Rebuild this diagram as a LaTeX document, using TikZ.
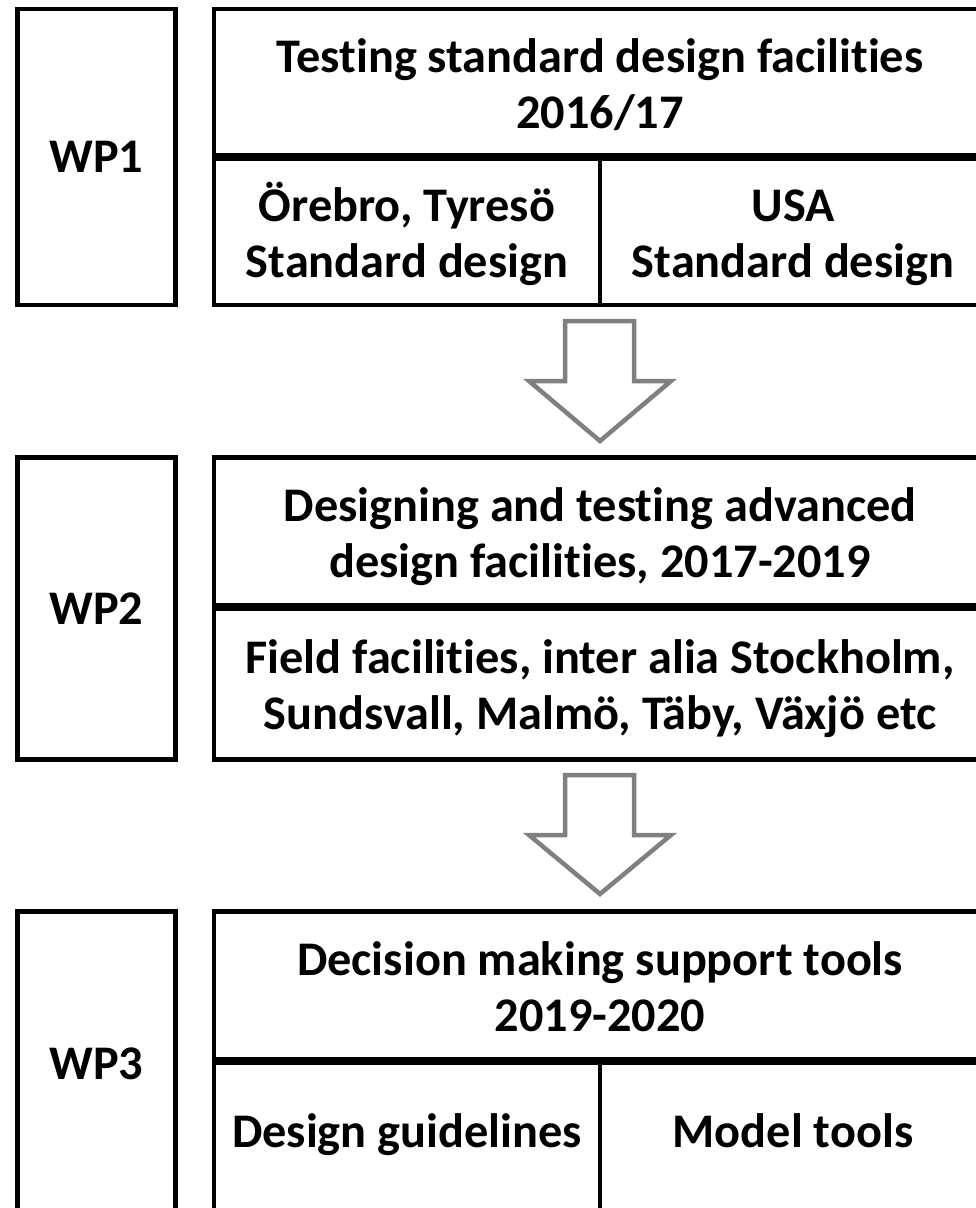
\documentclass[tikz,border=0pt]{standalone}
\usepackage{fontspec}
\setmainfont{Carlito}[Ligatures={NoCommon,NoContextual}]
\definecolor{arrowgray}{RGB}{128,128,128}
% line strut: every text line is 56pt tall, baseline 45.75pt below its top
\newcommand{\cellstrut}{\rule[-10.25pt]{0pt}{56pt}}
\tikzset{
  cell/.style={draw=black, line width=4.5pt, fill=white, inner sep=0pt,
    outer sep=0pt, anchor=north west, align=center,
    font=\bfseries\fontsize{48.3}{56}\selectfont},
  blockarrow/.style={draw=arrowgray, line width=4.5pt, fill=white,
    line join=miter}
}
\begin{document}
\begin{tikzpicture}[x=1pt, y=-1pt]
\useasboundingbox (0,0) rectangle (976,1208);
\clip (0,0) rectangle (976,1208);

% Work package 1
\node[cell, minimum width=158pt, minimum height=296pt] (wp1) at (17.5,9) {WP1};
\node[cell, minimum width=772pt, minimum height=146.5pt] (t1) at (214,9)
  {\cellstrut Testing standard design facilities\\\cellstrut 2016/17};
\node[cell, minimum width=386pt, minimum height=146.5pt] (l1) at (214,158.5)
  {\cellstrut Örebro, Tyresö\\\cellstrut Standard design};
\node[cell, minimum width=386pt, minimum height=146.5pt] (r1) at (600,158.5)
  {\cellstrut USA\\\cellstrut Standard design};

% Work package 2
\node[cell, minimum width=158pt, minimum height=302pt] (wp2) at (17.5,457.5) {WP2};
\node[cell, minimum width=772pt, minimum height=148pt] (t2) at (214,457.5)
  {\cellstrut Designing and testing advanced\\\cellstrut design facilities, 2017-2019};
\node[cell, minimum width=772pt, minimum height=151pt] (l2) at (214,608.5)
  {\cellstrut Field facilities, inter alia Stockholm,\\\cellstrut Sundsvall, Malmö, Täby, Växjö etc};

% Work package 3
\node[cell, minimum width=158pt, minimum height=305pt] (wp3) at (17.5,911.5) {WP3};
\node[cell, minimum width=772pt, minimum height=148pt] (t3) at (214,911.5)
  {\cellstrut Decision making support tools\\\cellstrut 2019-2020};
\node[cell, minimum width=386pt, minimum height=147.5pt] (l3) at (214,1062.5)
  {\strut Design guidelines};
\node[cell, minimum width=386pt, minimum height=147.5pt] (r3) at (600,1062.5)
  {\strut Model tools};

% Block arrows between the work packages
\draw[blockarrow] (565,321) -- (634,321) -- (634,381) -- (671,381)
  -- (600,441) -- (529,381) -- (565,381) -- cycle;
\draw[blockarrow] (565,775) -- (634,775) -- (634,835) -- (671,835)
  -- (600,894) -- (529,835) -- (565,835) -- cycle;
\end{tikzpicture}
\end{document}
